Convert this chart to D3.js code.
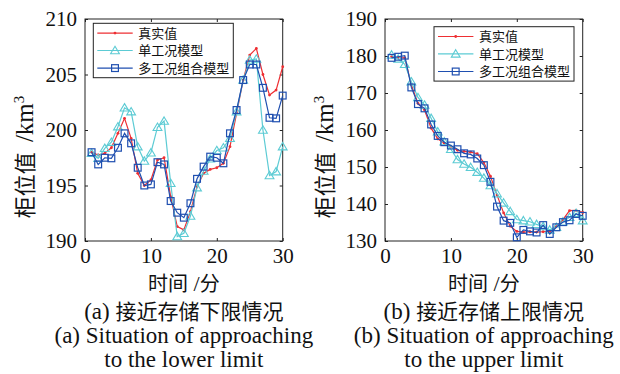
<!DOCTYPE html>
<html>
<head>
<meta charset="utf-8">
<script src="https://cdn.jsdelivr.net/npm/d3@7"></script>
<style>
  body { margin: 0; background: #fff; }
  text, tspan { fill: #111; }
</style>
</head>
<body>
<svg id="chart" width="620" height="374"></svg>
<script>
const minutes = [1, 2, 3, 4, 5, 6, 7, 8, 9, 10, 11, 12, 13, 14, 15,
                 16, 17, 18, 19, 20, 21, 22, 23, 24, 25, 26, 27, 28, 29, 30];
const xTicks = [0, 10, 20, 30];
const lowTicks = [190, 195, 200, 205, 210];
const highTicks = [130, 140, 150, 160, 170, 180, 190];
const seriesNames = ['真实值', '单工况模型', '多工况组合模型'];

// (a) lower limit
const realLow = [198.0, 197.75, 197.9, 198.4, 199.7, 201.05, 199.25, 196.1, 195.0, 195.5,
                 197.3, 197.5, 194.0, 191.3, 191.0, 192.65, 194.9, 196.1, 196.45, 196.6,
                 197.0, 198.5, 201.5, 204.5, 206.75, 207.35, 205.0, 203.15, 203.6, 205.7];
const singleLow = [197.9, 197.45, 198.35, 198.9, 200.3, 202.0, 201.65, 198.5, 197.2, 197.95,
                   200.25, 200.8, 195.2, 190.4, 190.7, 192.25, 194.8, 196.3, 197.4, 198.15,
                   198.4, 199.25, 201.65, 204.5, 206.3, 206.4, 200.0, 195.9, 196.25, 198.5];
const multiLow = [198.0, 196.9, 197.5, 197.45, 198.4, 199.7, 198.8, 196.6, 195.0, 195.1,
                  197.1, 196.9, 193.6, 192.55, 192.1, 193.4, 195.6, 196.7, 197.6, 197.5,
                  197.0, 199.7, 201.8, 204.5, 205.9, 205.9, 203.8, 201.1, 201.05, 203.1];

// (b) upper limit
const realHigh = [179.8, 179.6, 179.5, 172.2, 167.2, 165.4, 160.5, 157.6, 156.4, 155.6,
                  154.5, 154.2, 154.0, 153.6, 151.2, 147.5, 142.4, 137.6, 134.0, 132.6,
                  132.4, 132.5, 132.4, 132.5, 132.6, 133.9, 135.8, 138.2, 138.3, 137.7];
const singleHigh = [180.3, 179.2, 177.75, 173.05, 168.8, 166.75, 163.15, 159.55, 156.85, 154.8,
                    152.0, 150.8, 149.9, 148.6, 147.0, 145.0, 142.8, 140.3, 138.0, 135.8,
                    135.5, 135.2, 134.5, 133.9, 133.0, 133.7, 135.2, 136.4, 137.5, 135.5];
const multiHigh = [179.5, 179.8, 180.1, 171.5, 167.0, 165.85, 161.5, 158.4, 156.7, 155.8,
                   154.8, 153.7, 153.4, 152.3, 150.5, 146.0, 139.3, 135.5, 134.9, 131.0,
                   133.0, 132.6, 132.3, 134.3, 131.9, 133.7, 135.1, 135.6, 137.3, 136.8];

const colors = ['#ee2f33', '#5ccbd4', '#1f4fb0'];
const markers = ['dot', 'triangle', 'square'];
const SERIF = "'Liberation Serif', serif";
const CJK = "'Noto Sans CJK SC', sans-serif";

const svg = d3.select('#chart');
const plotTop = 19, plotBottom = 241, plotW = 197.7;

const panels = [
  {left: 85, domain: [190, 210], ticks: lowTicks, data: [realLow, singleLow, multiLow],
   legend: {x: 93.3, y: 23.3}, tag: '(a) ', cnCaption: '接近存储下限情况',
   enCaption: ['(a) Situation of approaching', 'to the lower limit']},
  {left: 385, domain: [130, 190], ticks: highTicks, data: [realHigh, singleHigh, multiHigh],
   legend: {x: 434, y: 26.7}, tag: '(b) ', cnCaption: '接近存储上限情况',
   enCaption: ['(b) Situation of approaching', 'to the upper limit']}
];

function drawMarker(g, type, color) {
  if (type === 'dot') {
    g.append('circle').attr('r', 1.4).style('fill', color);
  } else if (type === 'triangle') {
    g.append('path').attr('d', 'M0,-4.2L4.4,3.2L-4.4,3.2Z')
      .style('fill', 'none').style('stroke', color).style('stroke-width', 1.1);
  } else {
    g.append('rect').attr('x', -3.4).attr('y', -3.4).attr('width', 6.8).attr('height', 6.8)
      .style('fill', 'none').style('stroke', color).style('stroke-width', 1.2);
  }
}

// text made of runs: [string, font, size, dy, dx]
function runs(t, parts) {
  parts.forEach(r => {
    const s = t.append('tspan').style('font-family', r[1]).style('font-size', r[2] + 'px').text(r[0]);
    if (r[3]) s.attr('dy', r[3]);
    if (r[4]) s.attr('dx', r[4]);
  });
  return t;
}

panels.forEach(p => {
  const x = d3.scaleLinear().domain([0, 30]).range([p.left, p.left + plotW]);
  const y = d3.scaleLinear().domain(p.domain).range([plotBottom, plotTop]);
  const cx = p.left + plotW / 2;

  // axes with inward ticks on all four sides
  const styleTicks = g => g.selectAll('text')
    .style('font-family', SERIF).style('font-size', '21px').style('fill', '#111');
  svg.append('g').attr('transform', 'translate(0,' + plotBottom + ')')
    .call(d3.axisBottom(x).tickValues(xTicks).tickSizeInner(-3).tickSizeOuter(0).tickPadding(7))
    .call(styleTicks);
  svg.append('g').attr('transform', 'translate(0,' + plotTop + ')')
    .call(d3.axisTop(x).tickValues(xTicks).tickSizeInner(-3).tickSizeOuter(0).tickFormat(''));
  svg.append('g').attr('transform', 'translate(' + p.left + ',0)')
    .call(d3.axisLeft(y).tickValues(p.ticks).tickSizeInner(-3).tickSizeOuter(0).tickPadding(8))
    .call(styleTicks);
  svg.append('g').attr('transform', 'translate(' + (p.left + plotW) + ',0)')
    .call(d3.axisRight(y).tickValues(p.ticks).tickSizeInner(-3).tickSizeOuter(0).tickFormat(''));
  svg.selectAll('.domain').remove();
  svg.selectAll('.tick line').style('stroke', '#222');

  svg.append('rect')
    .attr('x', p.left).attr('y', plotTop).attr('width', plotW).attr('height', plotBottom - plotTop)
    .style('fill', 'none').style('stroke', '#222').style('stroke-width', 1);

  // series
  p.data.forEach((vals, k) => {
    const pts = minutes.map((m, i) => [x(m), y(vals[i])]);
    svg.append('path')
      .attr('d', d3.line()(pts))
      .style('fill', 'none').style('stroke', colors[k]).style('stroke-width', 1.2);
    pts.forEach(pt => {
      const g = svg.append('g').attr('transform', 'translate(' + pt[0] + ',' + pt[1] + ')');
      drawMarker(g, markers[k], colors[k]);
    });
  });

  // legend
  const lg = svg.append('g').attr('transform', 'translate(' + p.legend.x + ',' + p.legend.y + ')');
  lg.append('rect').attr('width', 140).attr('height', 54.4)
    .style('fill', '#fff').style('stroke', '#222').style('stroke-width', 1);
  const rowY = [9.8, 27.2, 44.8];
  seriesNames.forEach((name, k) => {
    lg.append('line').attr('x1', 4).attr('x2', 39.4).attr('y1', rowY[k]).attr('y2', rowY[k])
      .style('stroke', colors[k]).style('stroke-width', 1.2);
    const mg = lg.append('g').attr('transform', 'translate(21.7,' + rowY[k] + ')');
    drawMarker(mg, markers[k], colors[k]);
    lg.append('text').attr('x', 45).attr('y', rowY[k]).attr('dy', '0.36em')
      .style('font-family', CJK).style('font-size', '13px').text(name);
  });

  // axis titles
  runs(svg.append('text').attr('x', cx).attr('y', 291).attr('text-anchor', 'middle'),
    [['时间', CJK, 20], [' /', SERIF, 22], ['分', CJK, 20]]);
  runs(svg.append('text')
      .attr('transform', 'translate(' + (p.left - 52) + ',157) rotate(-90)')
      .attr('text-anchor', 'middle'),
    [['柜位值', CJK, 22], [' /km', SERIF, 25, 0, 4], ['3', SERIF, 15, -9]]);

  // captions
  runs(svg.append('text').attr('x', cx).attr('y', 319).attr('text-anchor', 'middle'),
    [[p.tag, SERIF, 23], [p.cnCaption, CJK, 21]]);
  p.enCaption.forEach((c, i) => {
    svg.append('text').attr('x', cx).attr('y', 343 + i * 24).attr('text-anchor', 'middle')
      .style('font-family', SERIF).style('font-size', '23px').text(c);
  });
});
</script>
</body>
</html>
